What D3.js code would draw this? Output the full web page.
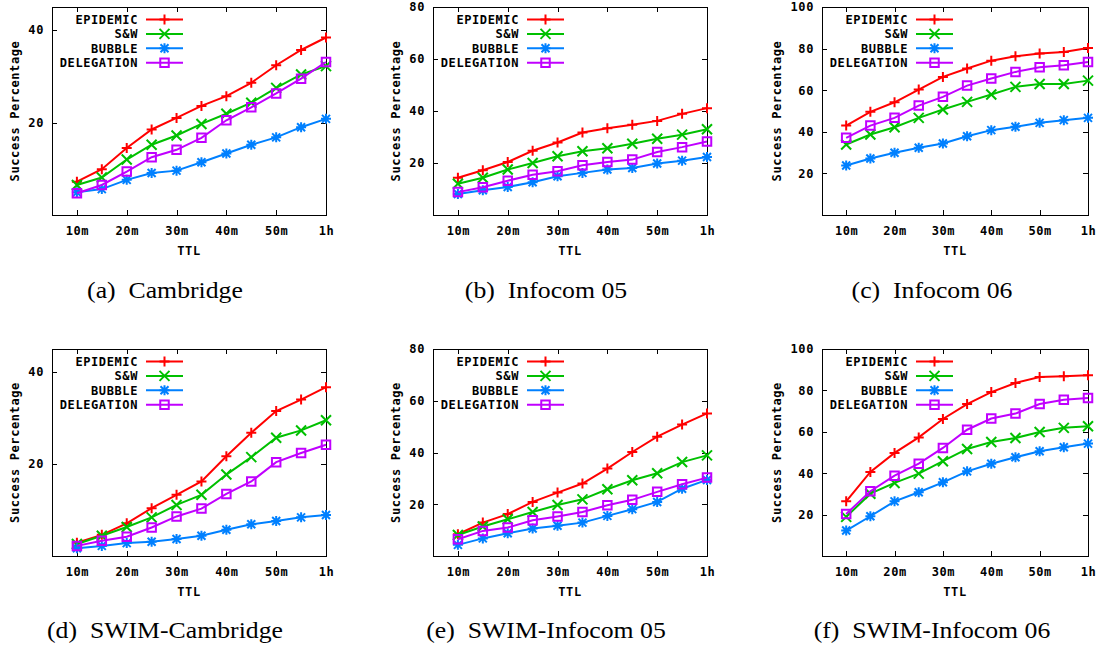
<!DOCTYPE html>
<html>
<head>
<meta charset="utf-8">
<script src="https://cdn.jsdelivr.net/npm/d3@7"></script>
<style>
  body { margin: 0; background: #fff; }
  .axis text, .lab, .legend text {
    font-family: "DejaVu Sans Mono", monospace;
    font-weight: bold;
    font-size: 12px;
    letter-spacing: 0.6px;
    fill: #000;
  }
  .cap { font-family: "Liberation Serif", "Times New Roman", serif; font-size: 23px; fill: #000; }
</style>
</head>
<body>
<svg id="fig" width="1102" height="650"></svg>
<script>
// TTL values (minutes) for every point
const ttl = [10, 15, 20, 25, 30, 35, 40, 45, 50, 55, 60];
const ttlTicks = [10, 20, 30, 40, 50, 60];
const ttlTickLabels = ['10m', '20m', '30m', '40m', '50m', '1h'];

const methods = ['EPIDEMIC', 'S&W', 'BUBBLE', 'DELEGATION'];
const colors = ['#ff0000', '#00c000', '#0080ff', '#c000ff'];
const markers = ['plus', 'cross', 'star', 'square'];

// rows: EPIDEMIC, S&W, BUBBLE, DELEGATION
const cambridge = [
  [7.2, 9.9, 14.5, 18.5, 21.0, 23.6, 25.7, 28.6, 32.4, 35.7, 38.4],
  [6.5, 8.1, 12.0, 15.2, 17.2, 19.7, 21.9, 24.3, 27.5, 30.4, 32.2],
  [4.9, 5.6, 7.6, 9.1, 9.6, 11.4, 13.3, 15.2, 16.8, 19.0, 20.8],
  [4.7, 6.5, 9.4, 12.5, 14.1, 16.7, 20.5, 23.3, 26.3, 29.5, 33.1]
];
const infocom05 = [
  [14.3, 17.2, 20.4, 24.7, 27.9, 31.7, 33.4, 34.7, 36.2, 38.9, 41.1],
  [12.0, 14.3, 17.5, 20.0, 22.6, 24.5, 25.7, 27.4, 29.3, 30.9, 33.0],
  [8.1, 9.5, 10.8, 12.6, 14.9, 16.2, 17.5, 18.1, 19.8, 20.9, 22.3],
  [8.8, 10.7, 13.2, 15.5, 16.8, 19.1, 20.4, 21.3, 24.2, 26.1, 28.3]
];
const infocom06 = [
  [43.0, 49.6, 54.2, 60.3, 66.4, 70.4, 74.2, 76.3, 77.6, 78.4, 80.3],
  [33.9, 38.7, 42.2, 46.7, 50.7, 54.4, 57.9, 61.6, 63.0, 63.0, 64.6],
  [23.8, 27.2, 29.9, 32.3, 34.4, 37.9, 40.8, 42.4, 44.3, 45.6, 46.7],
  [37.1, 43.0, 46.7, 52.6, 56.8, 62.2, 65.6, 68.8, 71.0, 72.0, 73.6]
];
const swimCambridge = [
  [2.9, 4.6, 7.1, 10.4, 13.3, 16.2, 21.7, 26.8, 31.5, 34.0, 36.7],
  [2.6, 4.4, 6.3, 8.4, 11.1, 13.3, 17.7, 21.5, 25.7, 27.3, 29.5],
  [1.7, 2.2, 2.8, 3.1, 3.7, 4.4, 5.7, 6.9, 7.6, 8.4, 8.9],
  [2.2, 3.3, 4.2, 6.2, 8.6, 10.3, 13.5, 16.2, 20.4, 22.4, 24.2]
];
const swimInfocom05 = [
  [8.4, 12.9, 16.2, 20.9, 24.5, 28.0, 33.8, 40.2, 46.1, 50.8, 55.1],
  [8.1, 11.4, 14.2, 17.0, 19.7, 21.9, 25.8, 29.3, 32.0, 36.3, 38.9],
  [4.3, 6.8, 8.8, 10.6, 11.7, 12.9, 15.5, 18.1, 20.9, 26.0, 29.4],
  [6.5, 9.7, 11.0, 13.8, 15.3, 17.0, 19.6, 21.7, 24.8, 27.7, 30.3]
];
const swimInfocom06 = [
  [26.4, 40.6, 49.8, 57.3, 66.2, 73.4, 79.2, 83.6, 86.5, 86.8, 87.3],
  [18.9, 30.1, 35.3, 39.8, 45.8, 51.7, 55.1, 57.0, 59.9, 61.9, 62.7],
  [12.3, 19.2, 26.4, 30.8, 35.6, 40.9, 44.6, 47.7, 50.6, 52.5, 54.3],
  [20.3, 31.3, 38.8, 44.6, 52.2, 61.0, 66.4, 68.8, 73.4, 75.5, 76.3]
];

const yTicksSmall = [20, 40];
const yTicksMid = [20, 40, 60, 80];
const yTicksBig = [20, 40, 60, 80, 100];

const captions = ['(a)  Cambridge', '(b)  Infocom 05', '(c)  Infocom 06',
                  '(d)  SWIM-Cambridge', '(e)  SWIM-Infocom 05', '(f)  SWIM-Infocom 06'];

// layout of each panel
const panels = [
  { data: cambridge,     yMax: 45,  ticks: yTicksSmall, left: 52,  right: 326,  top: 7,   bottom: 215, capX: 165, capY: 298 },
  { data: infocom05,     yMax: 80,  ticks: yTicksMid,   left: 433, right: 707,  top: 7,   bottom: 215, capX: 546, capY: 298 },
  { data: infocom06,     yMax: 100, ticks: yTicksBig,   left: 822, right: 1088, top: 7,   bottom: 215, capX: 932, capY: 298 },
  { data: swimCambridge, yMax: 45,  ticks: yTicksSmall, left: 52,  right: 326,  top: 349, bottom: 556, capX: 165, capY: 638 },
  { data: swimInfocom05, yMax: 80,  ticks: yTicksMid,   left: 433, right: 707,  top: 349, bottom: 556, capX: 546, capY: 638 },
  { data: swimInfocom06, yMax: 100, ticks: yTicksBig,   left: 822, right: 1088, top: 349, bottom: 556, capX: 932, capY: 638 }
];

function markerPath(type, s) {
  if (type === 'plus') return `M${-s},0H${s}M0,${-s}V${s}`;
  if (type === 'cross') return `M${-s},${-s}L${s},${s}M${-s},${s}L${s},${-s}`;
  if (type === 'star') return `M${-s},0H${s}M0,${-s}V${s}M${-s*0.8},${-s*0.8}L${s*0.8},${s*0.8}M${-s*0.8},${s*0.8}L${s*0.8},${-s*0.8}`;
  return `M${-s*0.85},${-s*0.85}H${s*0.85}V${s*0.85}H${-s*0.85}Z`;
}

const svg = d3.select('#fig');

panels.forEach(function(p, pi) {
  const x = d3.scaleLinear().domain([5, 60]).range([p.left, p.right]);
  const y = d3.scaleLinear().domain([0, p.yMax]).range([p.bottom, p.top]);
  const g = svg.append('g');

  // frame
  g.append('rect')
    .attr('x', p.left).attr('y', p.top)
    .attr('width', p.right - p.left).attr('height', p.bottom - p.top)
    .attr('fill', 'none').attr('stroke', '#000').attr('stroke-width', 1)
    .attr('shape-rendering', 'crispEdges');

  // axes with inward ticks
  g.append('g').attr('class', 'axis').attr('transform', 'translate(0,' + p.bottom + ')')
    .call(d3.axisBottom(x).tickValues(ttlTicks).tickFormat((d, i) => ttlTickLabels[i]).tickSize(-5).tickPadding(11));
  g.append('g').attr('class', 'axis').attr('transform', 'translate(0,' + p.top + ')')
    .call(d3.axisTop(x).tickValues(ttlTicks).tickFormat('').tickSize(-5));
  g.append('g').attr('class', 'axis').attr('transform', 'translate(' + p.left + ',0)')
    .call(d3.axisLeft(y).tickValues(p.ticks).tickSize(-5).tickPadding(8));
  g.append('g').attr('class', 'axis').attr('transform', 'translate(' + p.right + ',0)')
    .call(d3.axisRight(y).tickValues(p.ticks).tickFormat('').tickSize(-5));
  g.selectAll('.axis .domain').remove();
  g.selectAll('.axis line').attr('stroke', '#000').attr('shape-rendering', 'crispEdges');

  // axis titles
  const labChars = String(p.yMax >= 100 ? 100 : 40).length;
  g.append('text').attr('class', 'lab')
    .attr('transform', 'translate(' + (p.left - 22 - 7.8 * labChars) + ',' + ((p.top + p.bottom) / 2) + ') rotate(-90)')
    .attr('text-anchor', 'middle').attr('dy', '0.35em')
    .text('Success Percentage');
  g.append('text').attr('class', 'lab')
    .attr('x', (p.left + p.right) / 2).attr('y', p.bottom + 40)
    .attr('text-anchor', 'middle')
    .text('TTL');

  // series
  const line = d3.line().x((d, i) => x(ttl[i])).y(d => y(d));
  p.data.forEach(function(vals, si) {
    g.append('path')
      .attr('d', line(vals))
      .attr('fill', 'none').attr('stroke', colors[si]).attr('stroke-width', 2);
    g.selectAll('.m' + si)
      .data(vals)
      .enter().append('path')
      .attr('class', 'm' + si)
      .attr('transform', (d, i) => 'translate(' + x(ttl[i]) + ',' + y(d) + ')')
      .attr('d', markerPath(markers[si], 5))
      .attr('fill', 'none').attr('stroke', colors[si]).attr('stroke-width', 2);
  });

  // legend
  const lg = g.append('g').attr('class', 'legend');
  methods.forEach(function(m, si) {
    const ly = p.top + 12.5 + si * 14.4;
    lg.append('text').attr('x', p.left + 86).attr('y', ly).attr('dy', '0.35em')
      .attr('text-anchor', 'end').text(m);
    lg.append('line').attr('x1', p.left + 94).attr('x2', p.left + 131)
      .attr('y1', ly).attr('y2', ly)
      .attr('stroke', colors[si]).attr('stroke-width', 2);
    lg.append('path').attr('transform', 'translate(' + (p.left + 112.5) + ',' + ly + ')')
      .attr('d', markerPath(markers[si], 5))
      .attr('fill', 'none').attr('stroke', colors[si]).attr('stroke-width', 2);
  });

  // caption
  svg.append('text').attr('class', 'cap')
    .attr('transform', 'translate(' + p.capX + ',' + p.capY + ') scale(1.12,1)')
    .attr('text-anchor', 'middle')
    .style('white-space', 'pre')
    .text(captions[pi]);
});
</script>
</body>
</html>
